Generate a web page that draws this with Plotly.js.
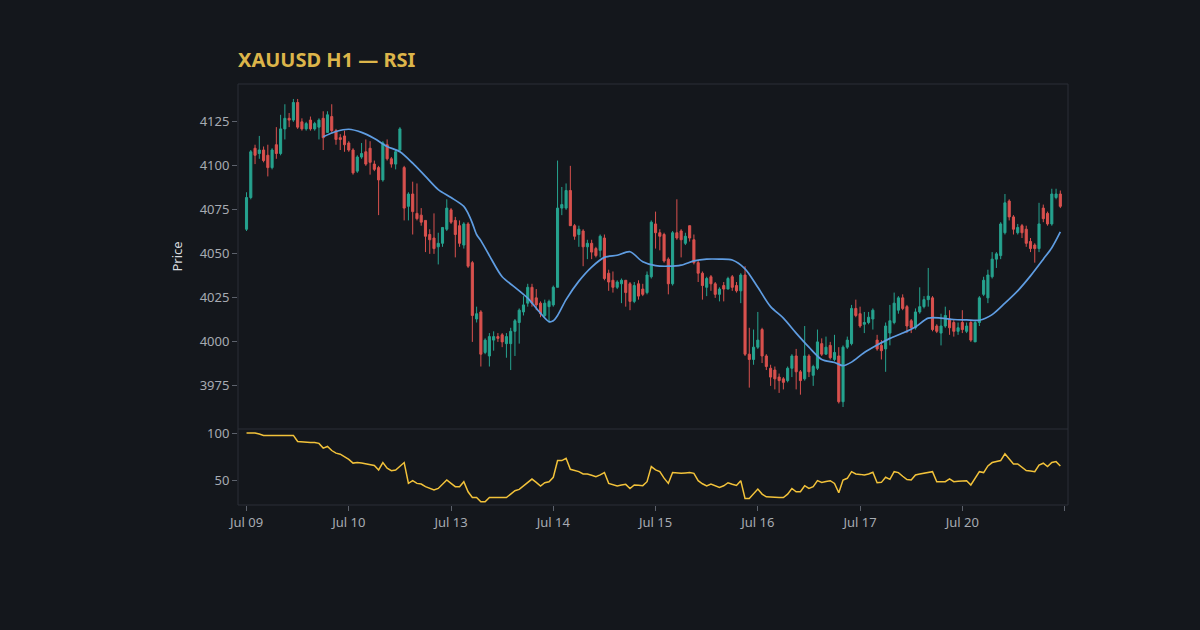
<!DOCTYPE html>
<html>
<head>
<meta charset="utf-8">
<script src="https://cdn.plot.ly/plotly-3.0.1.min.js"></script>
<style>
  html, body { margin: 0; padding: 0; background: #14171c; }
  #chart { width: 1200px; height: 630px; }
</style>
</head>
<body>
<div id="chart"></div>
<script>
// XAUUSD hourly candles (Jul 9 - Jul 20, weekends skipped) + MA + RSI pane.
const BG = "#14171c";
const UP = "#26a38f";
const DOWN = "#d9514e";
const MA_COLOR = "#5f9de2";
const RSI_COLOR = "#f2c23a";
const FRAME = "#2a2e37";
const TICK_TXT = "#a7abb2";

const days = ["2026-07-09", "2026-07-10", "2026-07-13", "2026-07-14", "2026-07-15", "2026-07-16", "2026-07-17", "2026-07-20"];
const dayLabels = ["Jul 09", "Jul 10", "Jul 13", "Jul 14", "Jul 15", "Jul 16", "Jul 17", "Jul 20", ""];

// OHLC, one per hour (24 per trading day)
const open = [
  4064,4082,4110,4107,4109,4106,4099,4112,4107,4121,4127,4126,4136,4125,4121,4126,4121,4122,4127,4119,4128,4120,4116,4117,
  4113,4109,4097,4105,4108,4110,4101,4099,4092,4112,4104,4101,4109,4099,4077,4084,4073,4072,4069,4061,4059,4054,4056,4064,
  4075,4069,4066,4055,4067,4045,4013,4017,3994,3992,4001,4003,4004,3999,3999,4006,4011,4017,4022,4031,4025,4022,4015,4020,
  4021,4031,4076,4076,4086,4066,4061,4063,4054,4056,4053,4052,4059,4039,4035,4031,4033,4035,4033,4023,4033,4030,4028,4037,
  4067,4062,4061,4047,4033,4062,4063,4056,4066,4058,4045,4039,4031,4037,4033,4027,4032,4030,4037,4032,4029,4038,3993,3990,
  3997,4007,3992,3985,3984,3980,3979,3978,3985,3992,3983,3979,3992,3981,3985,3999,3993,3998,3990,3992,3966,3997,3999,4019,
  4016,4010,4011,4013,4001,3998,3996,4005,4011,4018,4025,4020,4012,4008,4017,4020,4024,4025,4009,4005,4009,4013,4011,4006,
  4011,4006,4011,4000,4011,4027,4025,4037,4047,4049,4062,4080,4071,4062,4066,4064,4057,4055,4053,4076,4073,4067,4082,4084
];
const high = [
  4085,4109,4112,4117,4111,4112,4110,4122,4129,4135,4130,4138,4138,4127,4125,4128,4125,4127,4131,4131,4135,4121,4118,4120,
  4114,4110,4106,4113,4115,4114,4103,4100,4114,4115,4105,4109,4122,4100,4085,4091,4090,4076,4069,4064,4073,4062,4065,4081,
  4076,4071,4069,4068,4068,4046,4020,4018,4002,4005,4006,4005,4005,4005,4008,4013,4019,4026,4033,4033,4030,4023,4024,4024,
  4032,4103,4088,4090,4100,4067,4066,4064,4058,4058,4054,4061,4061,4041,4040,4035,4036,4035,4034,4034,4035,4033,4040,4069,
  4074,4064,4062,4048,4063,4081,4064,4062,4066,4061,4046,4040,4037,4038,4034,4031,4034,4037,4038,4034,4039,4043,4008,4007,
  4017,4008,3993,3987,3986,3982,3980,3986,3993,3996,3984,4009,3993,3987,4007,4002,4003,4000,4004,3997,3998,4003,4021,4024,
  4020,4017,4017,4019,4004,4001,4011,4021,4028,4026,4027,4021,4013,4019,4031,4026,4042,4026,4010,4016,4020,4018,4013,4011,
  4018,4011,4012,4012,4026,4037,4041,4051,4051,4068,4084,4081,4072,4067,4067,4066,4059,4056,4079,4078,4074,4087,4087,4086
];
const low = [
  4063,4081,4101,4104,4102,4094,4098,4104,4106,4115,4122,4125,4121,4120,4120,4120,4120,4115,4109,4119,4119,4112,4109,4108,
  4108,4095,4096,4104,4100,4095,4097,4072,4091,4103,4099,4098,4108,4069,4069,4061,4069,4066,4051,4050,4050,4044,4054,4063,
  4067,4048,4054,4053,4042,4000,4011,3986,3993,3986,3995,4000,3997,3991,3984,3992,3999,4015,4020,4020,4018,4014,4014,4011,
  4020,4031,4072,4075,4066,4058,4054,4043,4047,4047,4048,4048,4035,4029,4028,4030,4022,4020,4018,4022,4024,4026,4027,4036,
  4053,4052,4045,4027,4032,4058,4048,4055,4057,4044,4034,4024,4026,4029,4025,4023,4023,4030,4029,4028,4022,3992,3974,3987,
  3996,3988,3984,3975,3973,3971,3973,3977,3980,3973,3970,3978,3980,3975,3984,3992,3993,3990,3989,3965,3963,3996,3998,4014,
  4008,4005,4010,4007,3995,3990,3983,3998,4010,4016,4018,4005,4005,4007,4016,4019,4020,4006,4005,3998,4008,4004,4003,4004,
  4005,4005,4000,4000,4009,4026,4022,4036,4042,4047,4061,4069,4061,4061,4059,4054,4051,4045,4051,4068,4066,4066,4081,4076
];
const close = [
  4082,4108,4106,4109,4103,4099,4109,4107,4121,4127,4126,4136,4122,4121,4124,4121,4124,4126,4116,4129,4120,4115,4115,4112,
  4109,4096,4105,4107,4101,4102,4098,4092,4113,4104,4101,4108,4121,4076,4084,4074,4070,4068,4060,4058,4053,4056,4065,4076,
  4068,4061,4056,4067,4043,4015,4016,3993,4001,4003,4003,4002,4000,4003,4006,4012,4018,4021,4031,4022,4021,4016,4022,4023,
  4031,4076,4078,4086,4066,4060,4064,4054,4056,4051,4049,4060,4036,4034,4031,4034,4035,4028,4023,4032,4026,4027,4038,4068,
  4062,4060,4046,4033,4062,4059,4058,4060,4059,4045,4039,4032,4036,4033,4027,4030,4030,4036,4031,4029,4038,3993,3990,3997,
  4001,3992,3986,3980,3979,3978,3977,3985,3992,3983,3978,3992,3983,3986,4000,3993,3997,3991,3994,3966,3997,4001,4019,4015,
  4009,4011,4014,4018,3996,3995,4009,4012,4022,4025,4019,4009,4008,4017,4020,4024,4026,4007,4006,4009,4015,4008,4006,4008,
  4007,4009,4001,4011,4025,4035,4038,4047,4050,4067,4079,4071,4064,4065,4062,4056,4053,4053,4067,4070,4067,4084,4084,4077
];

// moving average at these candle indices
const maAt = [18,21,24,27,30,33,36,39,42,45,48,51,52,53,54,55,57,60,63,66,69,71,72,73,75,78,81,84,87,90,
  93,96,99,102,105,108,111,114,117,120,123,126,129,132,135,138,140,142,145,148,151,154,157,160,163,166,169,172,175,178,
  181,184,187,189,191];
const maVal = [4116.5,4119.5,4120.8,4119,4115.5,4111,4108,4101.5,4094,4086.5,4082,4077,4073,4067.5,4061,4057.5,4049,4037,4031,4024.8,
  4016.3,4011.5,4012,4015,4024,4034.5,4042.5,4048,4049.2,4051.2,4045.5,4043.3,4043,4043.6,4046,4047,4047,4046.5,4041.5,4031,
  4020,4013.5,4005,3997,3990,3988.3,3986.5,3988.5,3994,3998.2,4002,4005,4008.5,4013.5,4013.5,4012.7,4012.5,4012.3,4015.5,4022,
  4029,4037.5,4047,4053.5,4062.5];

// RSI, one per candle
const rsi = [
  100,100,100,99,97.5,97.5,97.5,97.5,97.5,97.5,97.5,97.5,
  91,90.5,90,90,90,89,84,85.7,81.4,78.6,77.5,75,
  72,68,68.6,68,67,66,65.4,60.7,68.6,62.5,60,60.7,
  64.3,68.6,46.4,49.3,46.4,45.7,42.9,41,39.3,41,45.5,50,
  46.4,42.9,42.9,48.2,37.5,31.4,31.4,26.8,26.8,31.4,31.4,31.4,
  31.4,31.4,35,38.6,40,43.6,48.2,51,47.5,43.6,47.1,48.2,
  52.9,70.7,70.7,73.2,61.4,60,58.9,56.4,56.4,55,53.6,55.4,
  57.9,46.4,44.7,43.6,44.6,45.4,41,44.7,44.5,44,48.2,64.3,
  60.7,58.9,52,46.4,57.9,57.1,57.1,57.5,57.9,57.1,49.3,46,
  43.6,45.7,44,42.1,43.9,47.1,45.5,44.2,49.3,30.4,30.4,35,
  40.4,35,32.1,31.8,31.4,31.4,31.4,35,41,37.5,37.5,43.9,
  41,42.9,49.3,47.5,48.5,49.3,46.4,36.4,50,51.8,58.9,56.4,
  56,55.4,56.4,58.2,47.1,47.5,52.9,50.7,58.9,57.9,54,50.5,
  50,55.4,56.3,57.1,58,58.9,48.2,48.2,48.2,51.1,48.2,48.8,
  49.3,49.3,44.7,51.8,58.9,57.9,65,68.6,69.5,70.7,77.9,72.1,
  67.1,67.1,63.6,60,59.5,58.9,66,67.9,64.3,68.6,69.6,65
];

const pad = (n) => String(n).padStart(2, "0");
const times = open.map((_, i) => `${days[Math.floor(i / 24)]} ${pad(i % 24)}:00`);

const tickFont = { family: "Noto Sans, sans-serif", size: 13, color: TICK_TXT };

const traces = [
  {
    type: "candlestick",
    x: times, open, high, low, close,
    increasing: { line: { color: UP, width: 1 }, fillcolor: UP },
    decreasing: { line: { color: DOWN, width: 1 }, fillcolor: DOWN },
    whiskerwidth: 0,
    hoverinfo: "skip",
    xaxis: "x", yaxis: "y",
  },
  {
    type: "scatter", mode: "lines",
    x: maAt.map((i) => times[i]), y: maVal,
    line: { color: MA_COLOR, width: 1.7, shape: "spline", smoothing: 0.8 },
    hoverinfo: "skip",
    xaxis: "x", yaxis: "y",
  },
  {
    type: "scatter", mode: "lines",
    x: times, y: rsi,
    line: { color: RSI_COLOR, width: 1.5 },
    hoverinfo: "skip",
    xaxis: "x", yaxis: "y2",
  },
];

const SPLIT = 0.1805;
const layout = {
  width: 1200, height: 630,
  paper_bgcolor: BG, plot_bgcolor: BG,
  margin: { l: 238, r: 132, t: 84, b: 125 },
  showlegend: false,
  title: {
    text: "<b>XAUUSD H1 — RSI</b>",
    font: { family: "Noto Sans, sans-serif", size: 20, color: "#dcb54a" },
    xref: "paper", x: 0, xanchor: "left",
    yref: "container", y: 0.905, yanchor: "middle",
  },
  xaxis: {
    type: "date",
    anchor: "y2",
    range: ["2026-07-08 22:00", "2026-07-21 00:48"],
    rangebreaks: [{ bounds: ["sat", "mon"] }],
    rangeslider: { visible: false },
    tickmode: "array",
    tickvals: days.concat(["2026-07-21"]),
    ticktext: dayLabels,
    ticks: "outside", ticklen: 5, tickcolor: "#5d626c",
    tickfont: tickFont,
    showgrid: false, zeroline: false, showline: false,
  },
  yaxis: {
    domain: [SPLIT, 1],
    range: [3950.5, 4146.5],
    tickmode: "array",
    tickvals: [3975, 4000, 4025, 4050, 4075, 4100, 4125],
    ticks: "outside", ticklen: 5, tickcolor: "#5d626c",
    tickfont: tickFont,
    title: { text: "Price", font: { family: "Noto Sans, sans-serif", size: 13, color: "#d6d9de" }, standoff: 14 },
    showgrid: false, zeroline: false, showline: false,
  },
  yaxis2: {
    domain: [0, SPLIT],
    range: [23.4, 104.3],
    tickmode: "array",
    tickvals: [50, 100],
    ticks: "outside", ticklen: 5, tickcolor: "#5d626c",
    tickfont: tickFont,
    showgrid: false, zeroline: false, showline: false,
  },
  shapes: [
    { type: "rect", xref: "paper", yref: "paper", x0: 0, x1: 1, y0: 0, y1: 1, line: { color: FRAME, width: 1 }, layer: "below" },
    { type: "line", xref: "paper", yref: "paper", x0: 0, x1: 1, y0: SPLIT, y1: SPLIT, line: { color: FRAME, width: 1 }, layer: "below" },
  ],
};

Plotly.newPlot("chart", traces, layout, { staticPlot: true, displayModeBar: false });
</script>
</body>
</html>
